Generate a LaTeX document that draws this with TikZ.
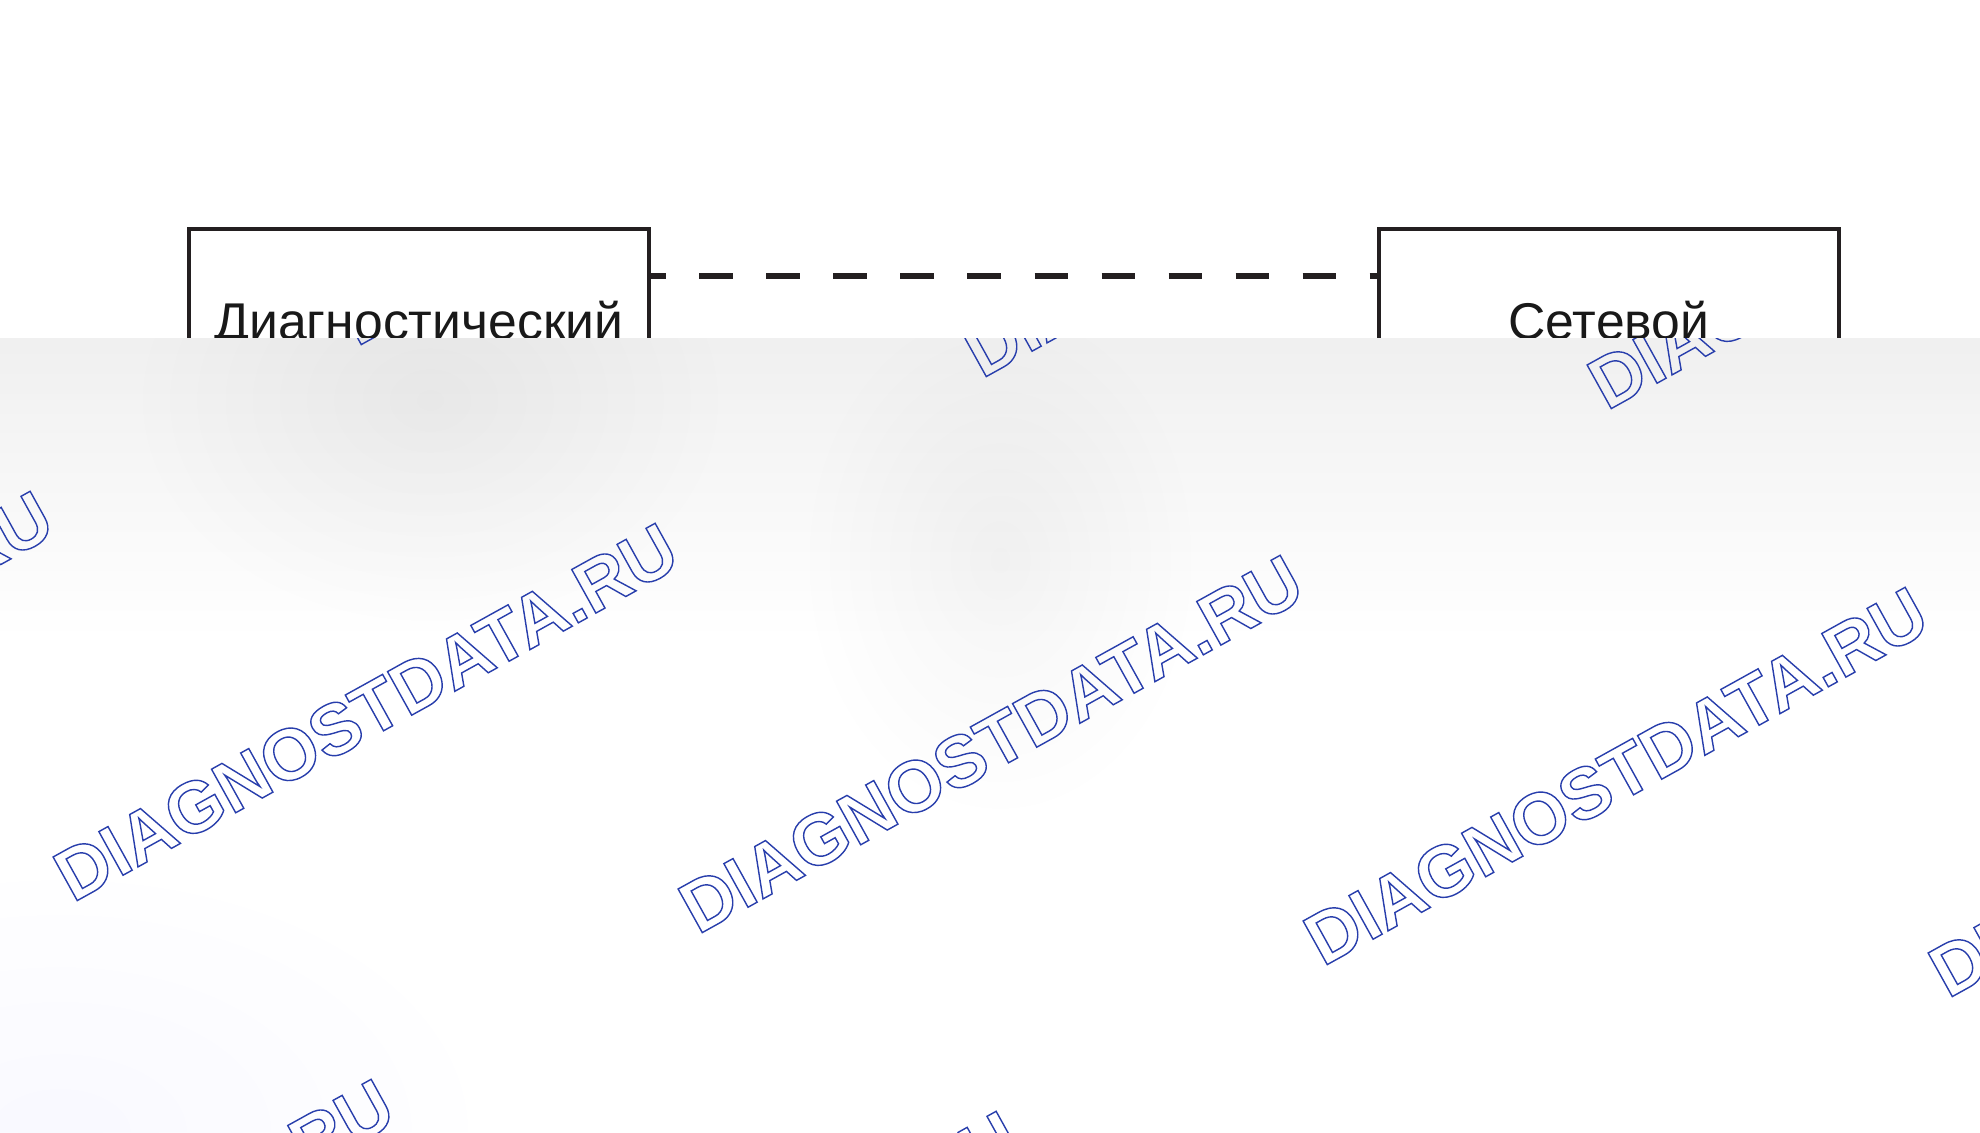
\documentclass[tikz,border=0pt]{standalone}
\usepackage{fontspec}
\setmainfont{Liberation Sans}
\usepackage[usenames, dvipsnames]{xcolor}
\usepackage{tikz}
\usetikzlibrary{positioning,backgrounds,fadings}
\definecolor{inkblack}{RGB}{35,31,32}
\definecolor{wmblue}{RGB}{40,62,172}
\tikzfading[name=softblob, inner color=transparent!0, outer color=transparent!100]
\newcommand{\wmtext}[1]{\special{pdf:literal 1 Tr 0.4 w}#1\special{pdf:literal 0 Tr}}

\begin{document}
\begin{tikzpicture}[
x=0.01cm, y=-0.01cm,
font=\fontsize{14.7pt}{17pt}\selectfont]
    \useasboundingbox (0,0) rectangle (1980,1132);
    \fill[white] (0,0) rectangle (1980,1132);

    % Draw blocks
    \node (diag) [draw=inkblack, line width=1pt, anchor=north west,
      minimum width=4.60cm, minimum height=1.84cm,
      text height=10.5pt, text depth=0pt, text=black!90]
      at (187,227) {Диагностический};
    \node (net) [draw=inkblack, line width=1pt, anchor=north west,
      minimum width=4.60cm, minimum height=1.84cm,
      text height=10.5pt, text depth=0pt, text=black!90]
      at (1377,227) {Сетевой};

    \draw[inkblack, line width=1.7pt,
      dash pattern=on 0.335cm off 0.335cm, dash phase=0.185cm]
      ([yshift=-0.49cm]diag.north east) -- ([yshift=-0.49cm]net.north west);

    % Draw cover
    \begin{scope}
    \clip (0,338) rectangle (1980,1132);
    \fill[white] (0,338) rectangle (1980,1132);
    \shade[top color=black!6, bottom color=white] (0,338) rectangle (1980,640);
    \fill[black, opacity=0.045, path fading=softblob] (430,400) ellipse (300 and 230);
    \fill[black, opacity=0.04, path fading=softblob] (1000,560) ellipse (200 and 260);
    \fill[blue!40, opacity=0.06, path fading=softblob] (60,1132) ellipse (420 and 260);
    \foreach \r in {-1,0,1}
      \foreach \c in {-1,...,3}
        \node (wm\r\c) [rotate=29, text=wmblue,
          font=\fontsize{20.6pt}{24pt}\selectfont\bfseries]
          at (366+625*\c-284*\r, 712+32*\c+556*\r)
          {\wmtext{DIAGNOSTDATA.RU}};
    \end{scope}

\end{tikzpicture}
\end{document}
